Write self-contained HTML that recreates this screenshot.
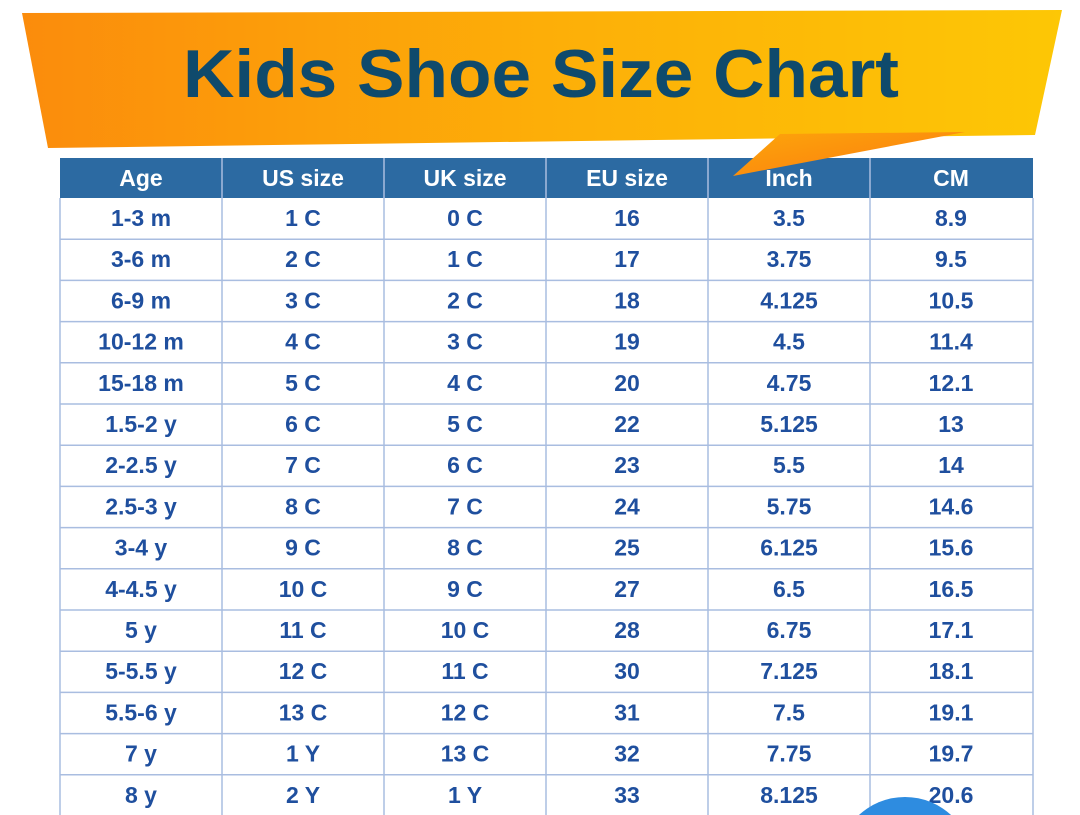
<!DOCTYPE html>
<html><head><meta charset="utf-8"><style>
html,body{margin:0;padding:0;background:#fff;width:1080px;height:815px;overflow:hidden}
svg text{font-family:"Liberation Sans",sans-serif;font-weight:bold}
</style></head><body>
<svg width="1080" height="815" viewBox="0 0 1080 815" xmlns="http://www.w3.org/2000/svg">
<defs>
<linearGradient id="g" x1="0" y1="0" x2="1" y2="0">
<stop offset="0" stop-color="#fb8c0c"/><stop offset="0.5" stop-color="#fdae08"/><stop offset="1" stop-color="#fdc705"/>
</linearGradient>
<linearGradient id="t" x1="0" y1="0" x2="1" y2="1">
<stop offset="0" stop-color="#fda60a"/><stop offset="1" stop-color="#fb7a10"/>
</linearGradient>
</defs>
<polygon points="22,13 1062,10 1035,135 48,148" fill="url(#g)"/>
<text x="541" y="97" font-size="68" fill="#0f4a6c" text-anchor="middle" textLength="716" lengthAdjust="spacingAndGlyphs">Kids Shoe Size Chart</text>
<rect x="60" y="158" width="973" height="40" fill="#2c6aa2"/>
<g fill="#fff" font-size="23" text-anchor="middle">
<text x="141" y="186">Age</text><text x="303" y="186">US size</text><text x="465" y="186">UK size</text>
<text x="627" y="186">EU size</text><text x="789" y="186">Inch</text><text x="951" y="186">CM</text>
</g>
<polygon points="733,176 780,134 965,132" fill="url(#t)"/>
<g stroke="#a9bde0" stroke-width="1.5" fill="none">
<line x1="60" y1="198" x2="60" y2="815"/><line x1="1033" y1="198" x2="1033" y2="815"/>
<line x1="222" y1="158" x2="222" y2="815"/><line x1="384" y1="158" x2="384" y2="815"/>
<line x1="546" y1="158" x2="546" y2="815"/><line x1="708" y1="158" x2="708" y2="815"/>
<line x1="870" y1="158" x2="870" y2="815"/>
</g>
<g stroke="#a9bde0" stroke-width="1.5" id="hl"></g>
<g id="rows" fill="#1f4f9e" font-size="23" text-anchor="middle"></g>
<circle cx="905" cy="865" r="68" fill="#2e8ce0"/>
<script>
var d=[["1-3 m","1 C","0 C","16","3.5","8.9"],["3-6 m","2 C","1 C","17","3.75","9.5"],["6-9 m","3 C","2 C","18","4.125","10.5"],["10-12 m","4 C","3 C","19","4.5","11.4"],["15-18 m","5 C","4 C","20","4.75","12.1"],["1.5-2 y","6 C","5 C","22","5.125","13"],["2-2.5 y","7 C","6 C","23","5.5","14"],["2.5-3 y","8 C","7 C","24","5.75","14.6"],["3-4 y","9 C","8 C","25","6.125","15.6"],["4-4.5 y","10 C","9 C","27","6.5","16.5"],["5 y","11 C","10 C","28","6.75","17.1"],["5-5.5 y","12 C","11 C","30","7.125","18.1"],["5.5-6 y","13 C","12 C","31","7.5","19.1"],["7 y","1 Y","13 C","32","7.75","19.7"],["8 y","2 Y","1 Y","33","8.125","20.6"]];
var ns="http://www.w3.org/2000/svg",R=document.getElementById("rows"),H=document.getElementById("hl");
for(var i=0;i<15;i++){var y=198+i*41.2;
if(i>0){var l=document.createElementNS(ns,"line");l.setAttribute("x1",60);l.setAttribute("x2",1033);l.setAttribute("y1",y);l.setAttribute("y2",y);H.appendChild(l);}
for(var j=0;j<6;j++){var t=document.createElementNS(ns,"text");t.setAttribute("x",141+j*162);t.setAttribute("y",y+28);t.textContent=d[i][j];R.appendChild(t);}}
</script>
</svg>
</body></html>
